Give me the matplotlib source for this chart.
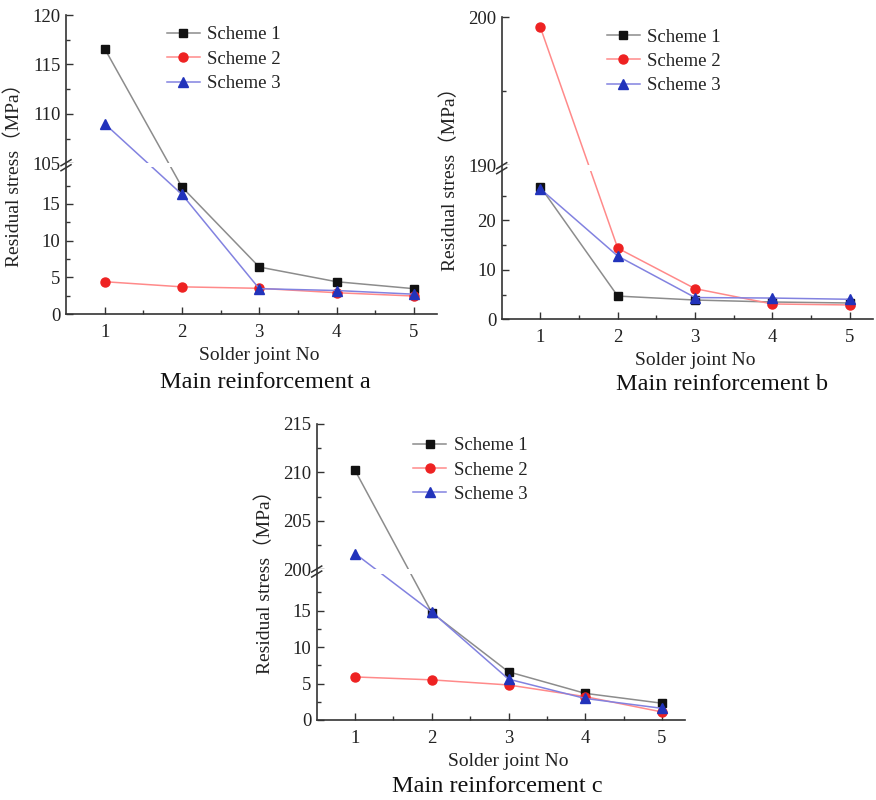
import numpy as np
import matplotlib
matplotlib.use("Agg")
import matplotlib.pyplot as plt

plt.rcParams['font.family'] = ['Liberation Serif', 'Noto Sans CJK SC', 'DejaVu Sans']

# ---------------- data ----------------
joints = [1, 2, 3, 4, 5]
scheme_names = ["Scheme 1", "Scheme 2", "Scheme 3"]

a_s1 = [116.6, 17.3, 6.4, 4.4, 3.45]
a_s2 = [4.4, 3.7, 3.5, 2.9, 2.45]
a_s3 = [109.0, 16.3, 3.45, 3.2, 2.7]

b_s1 = [26.8, 4.7, 3.9, 3.5, 3.3]
b_s2 = [199.3, 14.4, 6.2, 3.1, 2.9]
b_s3 = [26.4, 12.8, 4.4, 4.3, 4.05]

c_s1 = [210.2, 14.7, 6.6, 3.65, 2.3]
c_s2 = [5.9, 5.5, 4.8, 3.2, 1.1]
c_s3 = [201.6, 14.8, 5.6, 2.95, 1.6]

a_ticks = [0, 5, 10, 15, 105, 110, 115, 120]
b_ticks = [0, 10, 20, 190, 200]
c_ticks = [0, 5, 10, 15, 200, 205, 210, 215]
a_minor = [2.5, 7.5, 12.5, 17.5, 107.5, 112.5, 117.5]
b_minor = [5, 15, 25, 195]
c_minor = [2.5, 7.5, 12.5, 17.5, 202.5, 207.5, 212.5]

captions = ["Main reinforcement a", "Main reinforcement b", "Main reinforcement c"]

# ---------------- styles ----------------
line_cols = ['#8c8c8c', '#ff8a8a', '#8282e0']
mk_cols = ['#111111', '#ee2222', '#2233bb']
markers = ['s', 'o', '^']
msizes = [5.5, 6.5, 6.5]
txt = '#222222'

W, H = 876, 800
fig = plt.figure(figsize=(W / 100, H / 100), dpi=100)


def make_scale(lo_top, up_bot, k_lo, gap, k_up):
    a = lo_top * k_lo

    def fwd(v):
        v = np.asarray(v, dtype=float)
        return np.where(v <= lo_top, v * k_lo,
                        np.where(v >= up_bot, a + gap + (v - up_bot) * k_up,
                                 a + (v - lo_top) / (up_bot - lo_top) * gap))

    def inv(p):
        p = np.asarray(p, dtype=float)
        return np.where(p <= a, p / k_lo,
                        np.where(p >= a + gap, up_bot + (p - a - gap) / k_up,
                                 lo_top + (p - a) / gap * (up_bot - lo_top)))
    return fwd, inv


def panel(rect_px, series, ylim_top, lo_top, up_bot, k_lo, gap, k_up,
          ticks, minor, legend_anchor, caption, cap_xy):
    left, top, right, bottom = rect_px
    ax = fig.add_axes([left / W, 1 - bottom / H, (right - left) / W, (bottom - top) / H])
    fwd, inv = make_scale(lo_top, up_bot, k_lo, gap, k_up)
    ax.set_yscale('function', functions=(fwd, inv))
    for i, ys in enumerate(series):
        ax.plot(joints, ys, color=line_cols[i], lw=1.1, marker=markers[i],
                markersize=msizes[i], markerfacecolor=mk_cols[i],
                markeredgecolor=mk_cols[i], label=scheme_names[i], zorder=2)
    ax.axhspan(lo_top, up_bot, color='white', zorder=2.2, lw=0)
    ax.set_xlim(0.5, 5.3)
    ax.set_ylim(0, ylim_top)
    ax.set_xticks(joints)
    ax.set_xticks([1.5, 2.5, 3.5, 4.5], minor=True)
    ax.set_yticks(ticks)
    ax.set_yticklabels([str(t) for t in ticks])
    ax.set_yticks(minor, minor=True)
    for s in ['top', 'right']:
        ax.spines[s].set_visible(False)
    for s in ['left', 'bottom']:
        ax.spines[s].set_color('#333333')
        ax.spines[s].set_linewidth(1.2)
    ax.tick_params(axis='both', which='major', direction='in', length=5, width=1.0,
                   color='#333333', labelsize=13.5, labelcolor=txt)
    ax.tick_params(axis='both', which='minor', direction='in', length=3, width=1.0,
                   color='#333333')
    ax.tick_params(axis='x', pad=7)
    ax.tick_params(axis='y', pad=4)

    # break marks on the left spine
    wpx = right - left
    hpx = bottom - top
    yb = (lo_top * k_lo + gap / 2) / float(fwd(ylim_top))
    for off in (-2.5, 2.5):
        ax.plot([-5 / wpx, 5 / wpx], [yb + (off - 3) / hpx, yb + (off + 3) / hpx],
                transform=ax.transAxes, color='#333333', lw=1.1, clip_on=False, zorder=5)

    ax.set_ylabel("Residual stress（MPa）", fontsize=14, color=txt)
    ax.yaxis.set_label_coords(-43 / wpx, 0.48)
    ax.annotate("Solder joint No", xy=(3, 0), xycoords=('data', 'axes fraction'),
                xytext=(0, -41 * 0.72), textcoords='offset points',
                ha='center', va='center', fontsize=14, color=txt)
    leg = ax.legend(loc='upper left', bbox_to_anchor=legend_anchor, frameon=False,
                    fontsize=13.5, handlelength=1.75, handletextpad=0.4,
                    labelspacing=0.39, borderpad=0, borderaxespad=0)
    for t in leg.get_texts():
        t.set_color(txt)
    fig.text(cap_xy[0] / W, 1 - cap_xy[1] / H, caption, ha='center', va='center',
             fontsize=17.5, color='#111111')
    return ax


panel((66, 15, 437, 314), [a_s1, a_s2, a_s3], 120, 20, 105, 7.33, 4, 9.87,
      a_ticks, a_minor, (0.272, 0.962), captions[0], (265, 383))
panel((501.7, 17, 873, 319.3), [b_s1, b_s2, b_s3], 200, 30, 190, 4.93, 5.7, 14.8,
      b_ticks, b_minor, (0.283, 0.962), captions[1], (722, 385))
panel((316.7, 424, 685, 720), [c_s1, c_s2, c_s3], 215, 20, 200, 7.3, 5, 9.67,
      c_ticks, c_minor, (0.2625, 0.956), captions[2], (497, 787))

fig.savefig("out.png", dpi=100, facecolor='white')
